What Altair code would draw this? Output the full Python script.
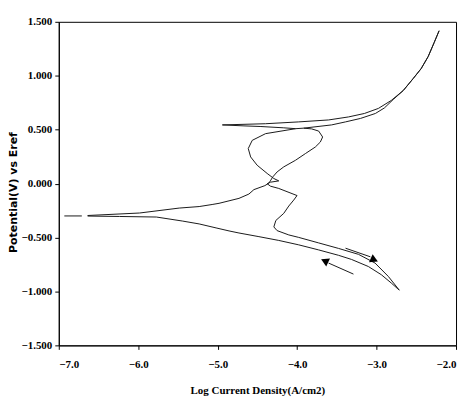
import altair as alt
import pandas as pd

# Main closed path: Ecorr -> anodic branch -> loop -> return branch -> cathodic tip -> back to Ecorr
main_x = [-6.637, -5.985, -5.484, -5.233, -5.070, -4.983, -4.732, -4.607, -4.544, -4.406,
          -4.356, -4.331, -4.306, -4.252, -4.168, -4.021, -3.896, -3.771, -3.708, -3.679,
          -3.729, -3.817, -3.917, -4.018,
          -4.397, -4.565, -4.615, -4.585, -4.503, -4.377, -4.293, -4.231, -4.335, -4.377,
          -4.335, -4.231, -4.001, -4.043, -4.105, -4.168, -4.268, -4.293, -4.252, -4.105,
          -3.980, -3.729, -3.479, -3.228, -3.019, -2.852, -2.714, -2.815, -2.940, -3.103,
          -3.316, -3.479, -3.729, -3.980, -4.231, -4.481, -4.732, -4.857, -5.020, -5.233,
          -5.446, -5.772, -6.236, -6.637]
main_y = [-0.296, -0.273, -0.227, -0.213, -0.194, -0.183, -0.137, -0.097, -0.056, -0.019,
          0.004, 0.032, 0.062, 0.108, 0.155, 0.216, 0.278, 0.339, 0.385, 0.432,
          0.487, 0.507, 0.514, 0.509,
          0.463, 0.401, 0.325, 0.247, 0.170, 0.094, 0.047, 0.025, 0.013, -0.001,
          -0.024, -0.045, -0.111, -0.153, -0.208, -0.276, -0.342, -0.402, -0.436, -0.476,
          -0.499, -0.550, -0.601, -0.656, -0.737, -0.861, -0.988, -0.922, -0.845, -0.769,
          -0.703, -0.665, -0.615, -0.568, -0.527, -0.492, -0.458, -0.439, -0.411, -0.374,
          -0.347, -0.310, -0.305, -0.301]

# Transpassive branch up to 1.4 V and its reverse scan down to the 0.55 V spike
anodic_x = [-3.917, -3.566, -3.391, -3.203, -3.015, -2.902, -2.790, -2.664, -2.539, -2.439,
            -2.351, -2.276, -2.213, -2.276, -2.351, -2.439, -2.539, -2.664, -2.815, -2.977,
            -3.153, -3.353, -3.604, -3.980, -4.397, -4.941, -4.669, -4.456, -4.168, -4.018]
anodic_y = [0.514, 0.544, 0.572, 0.604, 0.650, 0.701, 0.780, 0.863, 0.974, 1.066,
            1.177, 1.306, 1.417, 1.306, 1.177, 1.066, 0.974, 0.863, 0.771, 0.697,
            0.650, 0.618, 0.590, 0.572, 0.555, 0.544, 0.535, 0.529, 0.517, 0.509]

# short detached dash at the corrosion potential
dash_x = [-6.93, -6.71]
dash_y = [-0.30, -0.30]

# scan-direction arrows
arrow1_x = [-3.391, -3.078]
arrow1_y = [-0.599, -0.679]
arrow2_x = [-3.291, -3.604]
arrow2_y = [-0.839, -0.737]
head_x = [-3.028, -3.654]
head_y = [-0.707, -0.716]
head_dir = [114, 295]

x_ticks = [-7.0, -6.5, -6.0, -5.5, -5.0, -4.5, -4.0, -3.5, -3.0, -2.5, -2.0]
y_ticks = [-1.5, -1.0, -0.5, 0.0, 0.5, 1.0, 1.5]

rows = []
for name, xs_, ys_ in [("main", main_x, main_y), ("anodic", anodic_x, anodic_y),
                       ("dash", dash_x, dash_y), ("arrow1", arrow1_x, arrow1_y),
                       ("arrow2", arrow2_x, arrow2_y)]:
    for i, (a, b) in enumerate(zip(xs_, ys_)):
        rows.append({"x": a, "y": b, "o": i, "seg": name})
df = pd.DataFrame(rows)
heads = pd.DataFrame({"x": head_x, "y": head_y, "ang": head_dir})

xs = alt.Scale(domain=[-7, -2], nice=False, zero=False)
ys = alt.Scale(domain=[-1.5, 1.5], nice=False, zero=False)

SERIF = "Liberation Serif, Times New Roman, serif"

x_axis = alt.Axis(values=x_ticks, format=".1f", title="Log Current Density(A/cm2)",
                  tickSize=4, labelPadding=9, titlePadding=15, grid=False,
                  domainColor="black", tickColor="black", labelColor="black", titleColor="black",
                  labelFont=SERIF, labelFontWeight="bold", labelFontSize=11,
                  titleFont=SERIF, titleFontWeight="bold", titleFontSize=11)
y_axis = alt.Axis(values=y_ticks, format=".3f", title="Potential(V) vs Eref",
                  tickSize=4, labelPadding=3, grid=False, titleY=171, titleX=-40,
                  domainColor="black", tickColor="black", labelColor="black", titleColor="black",
                  labelFont=SERIF, labelFontWeight="bold", labelFontSize=11,
                  titleFont="DejaVu Sans", titleFontWeight="bold", titleFontSize=11)

lines = alt.Chart(df).mark_line(color="#1a1a1a", strokeWidth=1).encode(
    x=alt.X("x:Q", scale=xs, axis=x_axis),
    y=alt.Y("y:Q", scale=ys, axis=y_axis),
    order="o:Q",
    detail="seg:N",
)

arrowheads = alt.Chart(heads).mark_point(shape="triangle-up", filled=True, color="black",
                                         size=80, opacity=1).encode(
    x=alt.X("x:Q", scale=xs),
    y=alt.Y("y:Q", scale=ys),
    angle=alt.Angle("ang:Q", scale=None),
)

chart = alt.layer(lines, arrowheads).properties(
    width=399, height=325,
    autosize=alt.AutoSizeParams(type="none"),
    padding={"left": 51, "top": 13, "right": 5, "bottom": 52},
    background="white",
).configure_view(stroke="black", strokeWidth=1)

chart.save("out.html", embed_options={"renderer": "svg", "actions": False})
